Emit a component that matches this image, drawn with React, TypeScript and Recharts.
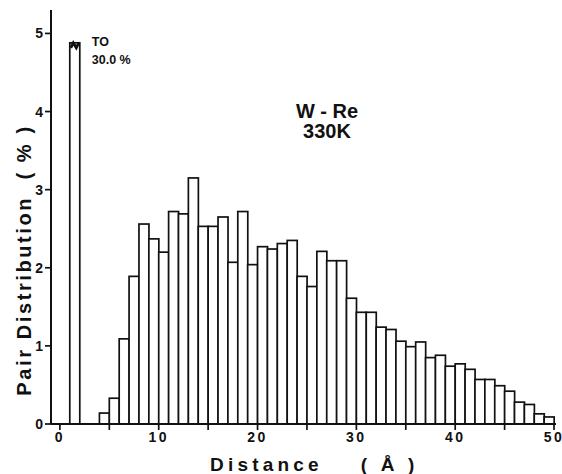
import { BarChart, Bar, XAxis, YAxis } from 'recharts';

// histogram bins (1 Å wide), given by their centre
const binCentres = [
  1.5, 4.5, 5.5, 6.5, 7.5, 8.5, 9.5, 10.5, 11.5, 12.5, 13.5, 14.5, 15.5, 16.5, 17.5,
  18.5, 19.5, 20.5, 21.5, 22.5, 23.5, 24.5, 25.5, 26.5, 27.5, 28.5, 29.5, 30.5, 31.5,
  32.5, 33.5, 34.5, 35.5, 36.5, 37.5, 38.5, 39.5, 40.5, 41.5, 42.5, 43.5, 44.5, 45.5,
  46.5, 47.5, 48.5, 49.5,
];
const pairPct = [
  30.0, 0.14, 0.33, 1.09, 1.89, 2.56, 2.37, 2.2, 2.72, 2.69, 3.15, 2.53, 2.53, 2.65, 2.07,
  2.72, 2.04, 2.27, 2.24, 2.31, 2.35, 1.89, 1.76, 2.21, 2.09, 2.09, 1.61, 1.43, 1.43,
  1.24, 1.21, 1.06, 0.99, 1.05, 0.85, 0.88, 0.74, 0.77, 0.7, 0.57, 0.57, 0.49, 0.42,
  0.28, 0.25, 0.13, 0.09,
];
const yTicks = [0, 1, 2, 3, 4, 5];
const xTicks = [0, 5, 10, 15, 20, 25, 30, 35, 40, 45, 50];
// bars taller than this are drawn broken off
const breakAt = 4.88;

const data = binCentres.map((d, i) => ({
  d,
  value: pairPct[i],
  shown: Math.min(pairPct[i], breakAt),
}));

const font = '"Liberation Sans", Arial, sans-serif';

const BinBar = (props: any) => {
  const { x, y, width, height, payload } = props;
  if (!height) return null;
  const broken = payload.value > payload.shown;
  return (
    <g>
      <rect x={x} y={y} width={width} height={height} fill="#fff" stroke="#111" strokeWidth={1.7} />
      {broken && (
        <>
          <path
            d={`M${x + 1},${y + 5} L${x + width * 0.35},${y} L${x + width * 0.65},${y + 5} L${x + width - 1},${y}`}
            fill="none"
            stroke="#111"
            strokeWidth={2.8}
          />
          <text x={x + width + 12} y={y + 3} fontFamily={font} fontWeight="bold" fontSize={12.5} fill="#111">
            TO
          </text>
          <text x={x + width + 12} y={y + 21} fontFamily={font} fontWeight="bold" fontSize={12.5} fill="#111">
            {payload.value.toFixed(1)} %
          </text>
        </>
      )}
    </g>
  );
};

const tickStyle = { fill: '#111', fontSize: 14, fontWeight: 'bold', fontFamily: font };

export default function App() {
  return (
    <div style={{ position: 'fixed', left: 0, top: 0, width: 562, height: 474, background: '#fff' }}>
      <BarChart
        width={562}
        height={474}
        data={data}
        margin={{ top: 10, right: 6, left: 11, bottom: 0 }}
        barCategoryGap={0}
        barGap={0}
      >
        <XAxis
          dataKey="d"
          type="number"
          domain={[-0.9, 50.2]}
          ticks={xTicks}
          interval={0}
          tickFormatter={(v: number) => (v % 10 === 0 ? String(v) : '')}
          tick={{ ...tickStyle, letterSpacing: 2.5 }}
          height={50}
          axisLine={{ stroke: '#111', strokeWidth: 2 }}
          tickLine={{ stroke: '#111', strokeWidth: 1.7 }}
          tickSize={6}
          tickMargin={2}
          allowDataOverflow
        />
        <YAxis
          type="number"
          domain={[0, 5.3]}
          ticks={yTicks}
          interval={0}
          width={40}
          tick={tickStyle}
          axisLine={{ stroke: '#111', strokeWidth: 2 }}
          tickLine={{ stroke: '#111', strokeWidth: 1.7 }}
          tickSize={6}
          tickMargin={2}
          allowDataOverflow
        />
        <Bar dataKey="shown" shape={BinBar} isAnimationActive={false} />
      </BarChart>
      <svg
        width={562}
        height={474}
        style={{ position: 'absolute', left: 0, top: 0, pointerEvents: 'none' }}
        fontFamily={font}
        fontWeight="bold"
        fill="#111"
      >
        <text x={327} y={118} fontSize={20} textAnchor="middle">W - Re</text>
        <text x={327} y={138} fontSize={20} textAnchor="middle">330K</text>
        <text
          transform="translate(31,260) rotate(-90)"
          fontSize={20}
          textAnchor="middle"
          letterSpacing={2.6}
          style={{ whiteSpace: 'pre' }}
        >
          Pair Distribution  ( % )
        </text>
        <text x={210} y={471} fontSize={19} letterSpacing={4.2} style={{ whiteSpace: 'pre' }}>
          Distance    ( Å )
        </text>
      </svg>
    </div>
  );
}
